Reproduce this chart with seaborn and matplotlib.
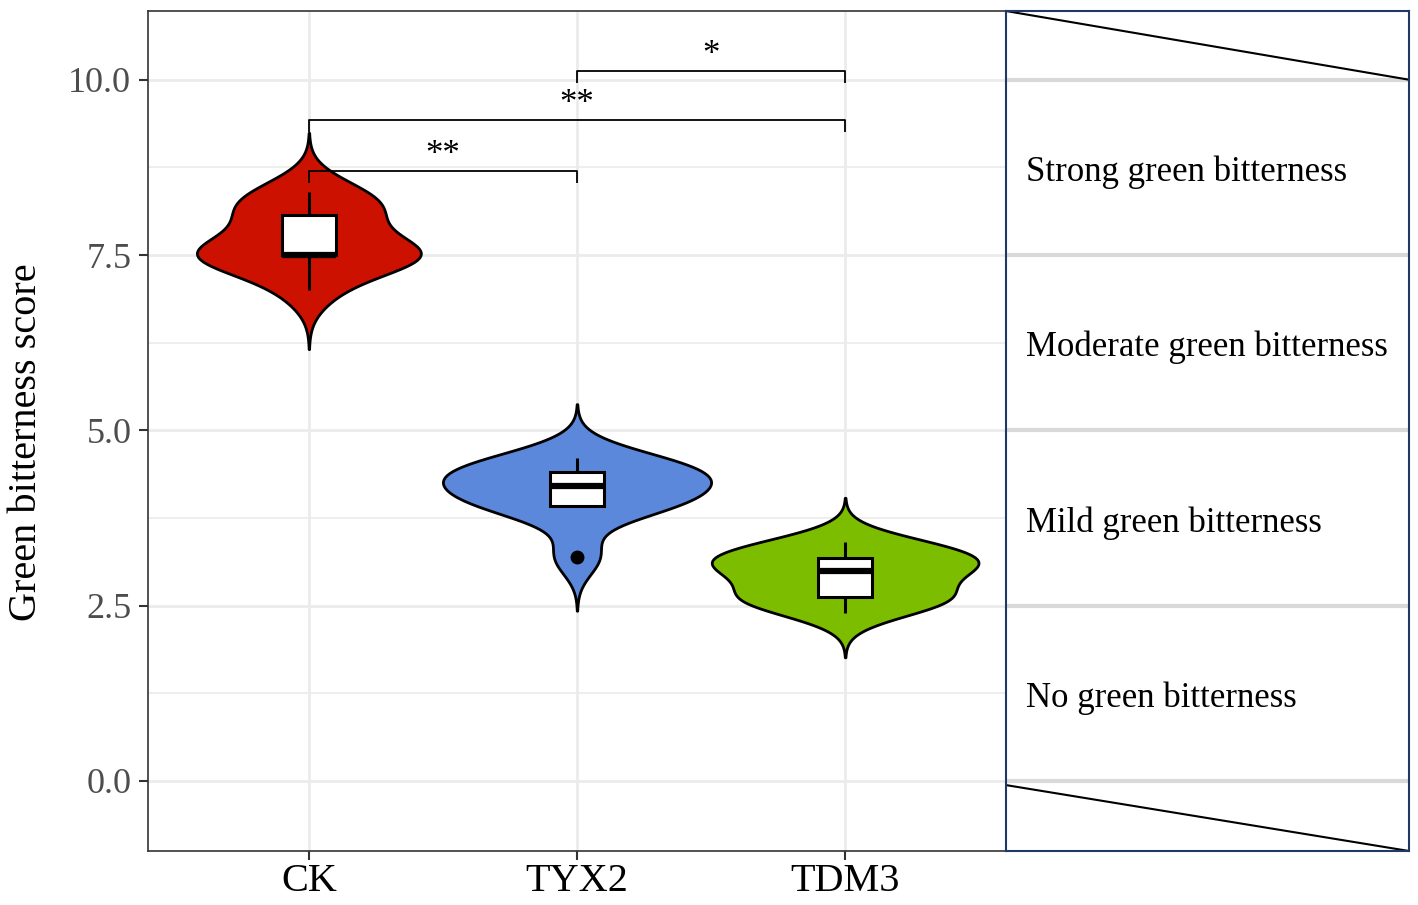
import numpy as np
import pandas as pd
import matplotlib
matplotlib.use("Agg")
import matplotlib.pyplot as plt
import seaborn as sns

# ---------------- data ----------------
groups = ["CK", "TYX2", "TDM3"]
ck_scores = [7.0, 7.5, 7.5, 7.5, 7.5, 7.5, 8.0, 8.1, 8.3, 8.4]
tyx2_scores = [3.2, 3.9, 3.9, 4.0, 4.2, 4.2, 4.4, 4.4, 4.5, 4.6]
tdm3_scores = [2.4, 2.6, 2.6, 2.7, 3.0, 3.0, 3.1, 3.2, 3.3, 3.4]
group_colors = ["#CC1100", "#5B88DB", "#7DBD00"]
y_ticks = [0.0, 2.5, 5.0, 7.5, 10.0]
level_breaks = [0.0, 2.5, 5.0, 7.5, 10.0]
level_labels = ["No green bitterness", "Mild green bitterness",
                "Moderate green bitterness", "Strong green bitterness"]
comparisons = [("CK", "TYX2", 8.70, "**"),
               ("CK", "TDM3", 9.42, "**"),
               ("TYX2", "TDM3", 10.13, "*")]
y_limits = (-1.0, 10.98)

df = pd.DataFrame({
    "group": ["CK"] * len(ck_scores) + ["TYX2"] * len(tyx2_scores) + ["TDM3"] * len(tdm3_scores),
    "score": ck_scores + tyx2_scores + tdm3_scores,
})

plt.rcParams["font.family"] = ["Liberation Serif", "DejaVu Serif"]

W, H = 1418, 905
fig = plt.figure(figsize=(W / 100, H / 100), dpi=100)
ax = fig.add_axes([148 / W, 54 / H, (1006 - 148) / W, (851 - 11) / H])
axr = fig.add_axes([1006 / W, 54 / H, (1409 - 1006) / W, (851 - 11) / H])

ax.set_axisbelow(True)

sns.violinplot(data=df, x="group", y="score", hue="group", order=groups,
               hue_order=groups, palette=group_colors, saturation=1,
               inner=None, cut=3, density_norm="area", common_norm=True,
               width=1.0, linewidth=2, linecolor="black", legend=False, ax=ax)

sns.boxplot(data=df, x="group", y="score", order=groups, color="white",
            saturation=1, width=0.2, linewidth=2.2, linecolor="black",
            showcaps=False,
            flierprops=dict(marker="o", markerfacecolor="black",
                            markeredgecolor="black", markersize=9),
            medianprops=dict(linewidth=4.5, color="black"), ax=ax)

# significance brackets
tip = 0.17
for g1, g2, yb, lab in comparisons:
    x1, x2 = groups.index(g1), groups.index(g2)
    ax.plot([x1, x1, x2, x2], [yb - tip, yb, yb, yb - tip], color="black",
            lw=1.3, solid_capstyle="butt", zorder=5)
    ax.text((x1 + x2) / 2, yb + 0.1, lab, ha="center", va="baseline",
            fontsize=25, color="black", zorder=5)

ax.set_xlim(-0.6, 2.6)
ax.set_ylim(*y_limits)
ax.set_yticks(y_ticks)
ax.set_yticklabels([f"{v:.1f}" for v in y_ticks])
minor = [(a + b) / 2 for a, b in zip(y_ticks[:-1], y_ticks[1:])]
ax.set_yticks(minor, minor=True)
ax.grid(True, which="major", color="#EBEBEB", lw=2)
ax.grid(True, which="minor", axis="y", color="#EBEBEB", lw=1.2)
ax.tick_params(axis="both", which="major", length=6.5, width=1.5, color="#333333")
ax.tick_params(axis="y", which="minor", length=0)
ax.tick_params(axis="y", labelsize=26, labelcolor="#4D4D4D", pad=5.5)
ax.tick_params(axis="x", labelsize=29, labelcolor="black", pad=2)
ax.set_xlabel("")
ax.set_ylabel("Green bitterness score", fontsize=29, labelpad=17, color="black")
ax.yaxis.label.set_y(0.5 - 11 / 840)
for s in ax.spines.values():
    s.set_color("#333333")
    s.set_linewidth(1.2)

# right descriptive panel
axr.set_xlim(0, 1)
axr.set_ylim(*y_limits)
axr.set_xticks([])
axr.set_yticks([])
for yv in level_breaks:
    axr.axhline(yv, color="#D9D9D9", lw=3, zorder=1)
axr.plot([0, 1], [y_limits[1], level_breaks[-1]], color="black", lw=1.5, zorder=2)
axr.plot([0, 1], [level_breaks[0] - 0.06, y_limits[0]], color="black", lw=1.5, zorder=2)
for i, lab in enumerate(level_labels):
    axr.text(0.05, (level_breaks[i] + level_breaks[i + 1]) / 2 - 0.07, lab,
             ha="left", va="center", fontsize=25, color="black")
for s in axr.spines.values():
    s.set_color("#1F3864")
    s.set_linewidth(1.5)

fig.savefig("out.png", dpi=100)
